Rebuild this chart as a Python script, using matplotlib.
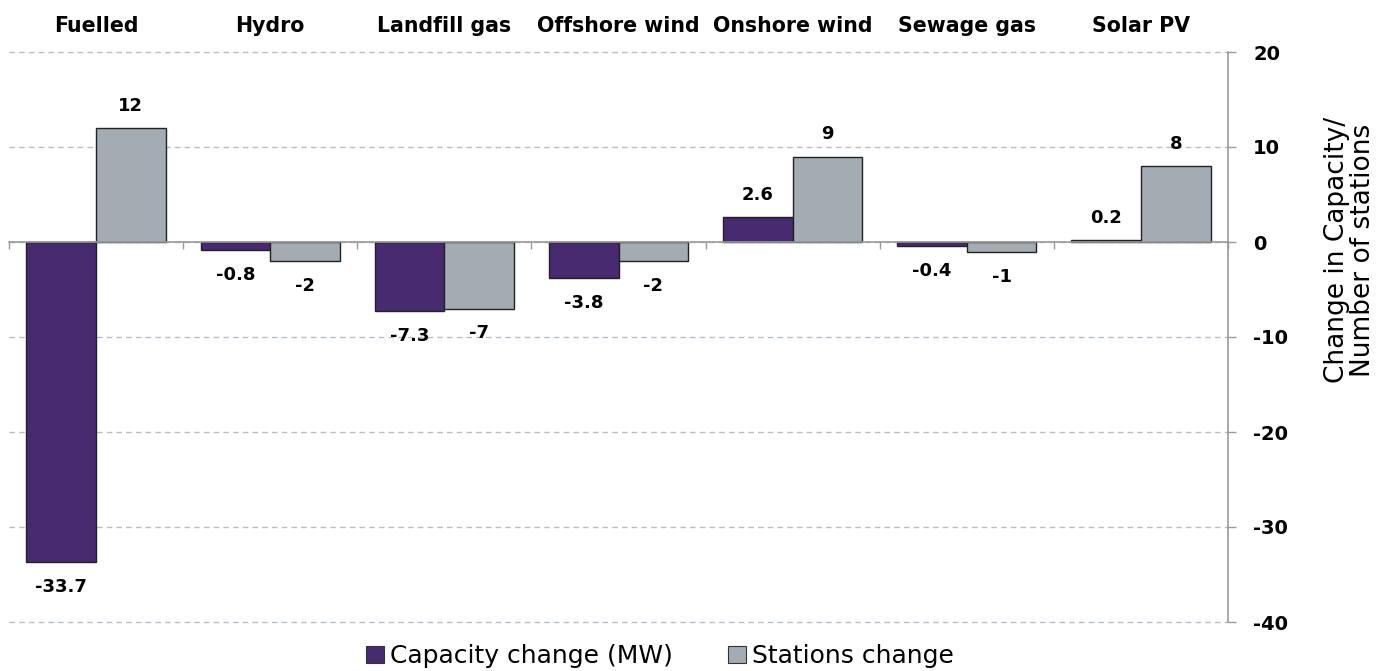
import matplotlib
matplotlib.use("Agg")
import matplotlib.pyplot as plt
import matplotlib.transforms as mtransforms
from matplotlib.patches import Patch
import numpy as np

categories = ["Fuelled", "Hydro", "Landfill gas", "Offshore wind",
              "Onshore wind", "Sewage gas", "Solar PV"]
capacity_change = [-33.7, -0.8, -7.3, -3.8, 2.6, -0.4, 0.2]
stations_change = [12, -2, -7, -2, 9, -1, 8]
y_ticks = [20, 10, 0, -10, -20, -30, -40]

series_names = ["Capacity change (MW)", "Stations change"]
colors = ["#472A70", "#A3ACB2"]

W, H = 1379, 671
fig = plt.figure(figsize=(W / 100, H / 100), dpi=100)
ax = fig.add_axes([9 / W, 1 - 622 / H, (1228 - 9) / W, (622 - 52) / H])

x = np.arange(len(categories))
width = 0.4
bars_cap = ax.bar(x - width / 2, capacity_change, width, color=colors[0],
                  edgecolor="#222222", linewidth=1.0, zorder=3)
bars_sta = ax.bar(x + width / 2, stations_change, width, color=colors[1],
                  edgecolor="#222222", linewidth=1.0, zorder=3)

# value labels just beyond the end of each bar
for bars, vals in ((bars_cap, capacity_change), (bars_sta, stations_change)):
    for b, v in zip(bars, vals):
        cx = b.get_x() + b.get_width() / 2
        off = 16 if v >= 0 else -18
        ax.annotate(f"{v:g}", (cx, v), xytext=(0, off), textcoords="offset points",
                    ha="center", va="center", fontsize=13, fontweight="bold",
                    family="DejaVu Sans", zorder=5)

ax.set_xlim(-0.5, len(categories) - 0.5)
ax.set_ylim(-40, 20)

# category names across the top
trans = mtransforms.blended_transform_factory(ax.transData, fig.transFigure)
for xi, name in zip(x, categories):
    ax.text(xi, 1 - 32 / H, name, transform=trans, ha="center", va="baseline",
            fontsize=14.8, fontweight="bold", family="DejaVu Sans")

# category axis along zero, ticks at category boundaries
ax.spines["bottom"].set_position(("data", 0))
ax.spines["bottom"].set_color("#999999")
ax.spines["bottom"].set_linewidth(1.2)
ax.spines["bottom"].set_zorder(4)
ax.set_xticks(np.arange(len(categories) + 1) - 0.5)
ax.set_xticklabels([])
ax.tick_params(axis="x", direction="out", length=5, color="#999999", width=1)

for s in ("top", "left"):
    ax.spines[s].set_visible(False)
ax.spines["right"].set_color("#999999")
ax.spines["right"].set_linewidth(1.2)

ax.yaxis.tick_right()
ax.yaxis.set_label_position("right")
ax.set_yticks(y_ticks)
ax.set_yticklabels([f"{t}" for t in y_ticks], fontweight="bold", fontsize=14,
                   family="DejaVu Sans")
ax.tick_params(axis="y", direction="out", length=6, color="#999999", width=1, pad=12)

ax.yaxis.grid(True, linestyle=(0, (4, 3)), color="#B5BEC6", linewidth=1.0, zorder=0)
ax.set_axisbelow(True)
for gl in ax.get_ygridlines():
    gl.set_clip_on(False)

fig.text(1350 / W, 1 - 250 / H, "Change in Capacity/\nNumber of stations",
         rotation=90, ha="center", va="center", fontsize=19, family="DejaVu Sans",
         linespacing=1.05)

handles = [Patch(facecolor=c, edgecolor="#333333", linewidth=0.8) for c in colors]
fig.legend(handles, series_names, loc="center", bbox_to_anchor=(660 / W, 1 - 656 / H),
           ncol=2, frameon=False, prop={"family": "DejaVu Sans", "size": 18},
           handlelength=0.7, handleheight=0.7, handletextpad=0.25,
           columnspacing=2.2, borderpad=0)

fig.savefig("out.png", dpi=100)
